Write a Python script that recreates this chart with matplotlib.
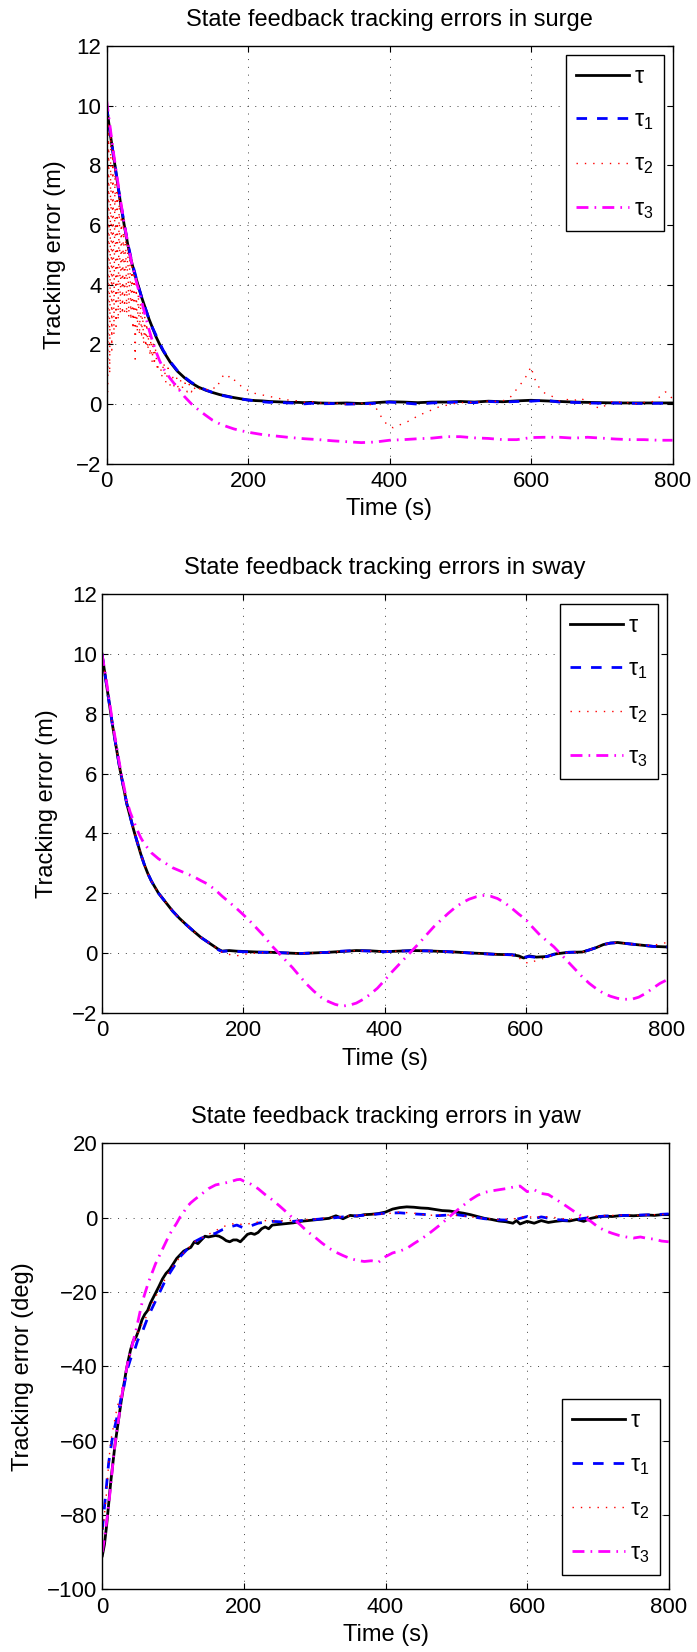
import numpy as np
import matplotlib
matplotlib.use("Agg")
import matplotlib.pyplot as plt

plt.rcParams['font.family'] = ['Liberation Sans', 'DejaVu Sans']
plt.rcParams['mathtext.fontset'] = 'custom'
plt.rcParams['mathtext.rm'] = 'Liberation Sans'
plt.rcParams['mathtext.it'] = 'Liberation Sans:italic'
plt.rcParams['axes.unicode_minus'] = True

# ---------------- data ----------------
series_labels = [r'$\mathrm{\tau}$', r'$\mathrm{\tau}_1$', r'$\mathrm{\tau}_2$', r'$\mathrm{\tau}_3$']
titles = ["State feedback tracking errors in surge",
          "State feedback tracking errors in sway",
          "State feedback tracking errors in yaw"]
ylabels = ["Tracking error (m)", "Tracking error (m)", "Tracking error (deg)"]
xlabel = "Time (s)"
xticks = [0, 200, 400, 600, 800]

# surge
surge_t = [0, 5, 10, 15, 20, 25, 30, 35, 40, 45, 50, 55, 60, 65, 70, 75, 80,
           90, 100, 110, 120, 130, 140, 150, 160, 170, 180, 190, 200, 210, 220, 230, 240, 250, 260, 270, 280, 290, 300,
           320, 340, 360, 380, 400, 420, 440, 460, 480, 500, 520, 540, 560, 580, 600, 620, 640, 660, 680, 700, 720,
           740, 760, 780, 800]
surge_tau = [10.0, 9.1, 8.3, 7.5, 6.7, 6.0, 5.35, 4.8, 4.35, 3.95, 3.55, 3.2, 2.85, 2.55, 2.25, 2.0, 1.78,
             1.4, 1.1, 0.88, 0.7, 0.56, 0.46, 0.38, 0.31, 0.26, 0.21, 0.17, 0.13, 0.11, 0.1, 0.08, 0.07, 0.06, 0.05,
             0.05, 0.04, 0.05, 0.03,
             0.02, 0.03, 0.01, 0.04, 0.07, 0.06, 0.04, 0.06, 0.06, 0.08, 0.06, 0.09, 0.07, 0.1, 0.12, 0.1, 0.08,
             0.06, 0.05, 0.04, 0.03, 0.03, 0.03, 0.03, 0.03]
surge_tau1 = [10.0, 9.15, 8.3, 7.5, 6.75, 6.05, 5.4, 4.85, 4.4, 3.95, 3.55, 3.2, 2.85, 2.55, 2.3, 2.05, 1.8,
              1.42, 1.12, 0.9, 0.72, 0.58, 0.47, 0.38, 0.3, 0.25, 0.2, 0.16, 0.13, 0.1, 0.07, 0.05, 0.06, 0.04,
              0.03, 0.02, 0.0, 0.02, 0.0,
              0.01, -0.01, 0.0, 0.02, 0.06, 0.03, -0.01, 0.03, 0.05, 0.06, 0.04, 0.08, 0.06, 0.08, 0.09, 0.12,
              0.06, 0.05, 0.03, 0.02, 0.03, 0.02, 0.01, 0.02, 0.02]
surge_t2 = list(np.arange(0, 69.1, 1.5)) + list(np.arange(72, 129.1, 3)) + [
    135, 140, 145, 150, 155, 160, 165, 170, 175, 180, 185, 190, 195, 200, 210, 220, 230, 240, 250, 260,
    270, 280, 290, 300, 310, 320, 330, 340, 350, 360, 370, 380, 385, 390, 395, 400, 405, 410, 415, 420,
    430, 440, 450, 460, 470, 480, 490, 500, 510, 520, 530, 540, 550, 560, 570, 575, 580, 585, 590, 595,
    600, 603, 606, 610, 615, 620, 630, 640, 650, 660, 670, 680, 690, 700, 710, 720, 730, 740, 750, 760,
    770, 780, 790, 795, 800]
surge_tau2 = [10.2, 0.4, 9.6, 1.0, 9.0, 1.8, 8.5, 2.3, 8.0, 2.6, 7.5, 2.8, 7.0, 3.0, 6.6, 3.0, 6.2, 3.1, 5.8, 3.0,
              5.4, 2.9, 5.0, 2.8, 4.6, 2.5, 4.3, 1.5, 4.0, 2.4, 3.7, 2.3, 3.4, 2.2, 3.1, 2.0, 2.9, 1.9, 2.7, 1.8,
              2.5, 1.6, 2.3, 1.4, 2.1, 1.3, 1.9,
              1.1, 1.6, 0.9, 1.4, 0.7, 1.2, 0.6, 1.0, 0.5, 0.9, 0.4, 0.8, 0.5, 0.7, 0.4, 0.65, 0.4, 0.6, 0.45, 0.55,
              0.45, 0.5, 0.45, 0.55, 0.5, 0.75, 0.95, 0.85, 0.95, 0.8, 0.75, 0.6, 0.55, 0.45, 0.35, 0.3, 0.25, 0.2,
              0.15, 0.12, 0.1, 0.05, 0.08, 0.02, 0.05, 0.0, 0.03, -0.02, 0.0, 0.02, 0.0, -0.1, -0.3, -0.5, -0.65,
              -0.75, -0.8, -0.75, -0.7, -0.65, -0.55, -0.4, -0.3, -0.2, -0.1, -0.05, 0.0, 0.05, 0.02, 0.08, 0.05,
              0.1, 0.08, 0.1, 0.2, 0.35, 0.5, 0.65, 0.8, 1.0, 1.25, 1.0, 0.8, 0.6, 0.45, 0.35, 0.25, 0.1, 0.15,
              0.1, 0.2, 0.05, -0.1, -0.15, 0.05, 0.1, 0.02, 0.05, 0.0, 0.05, 0.05, 0.2, 0.4, 0.35, 0.15]
surge_t3 = [0, 5, 10, 15, 20, 25, 30, 35, 40, 45, 50, 55, 60, 65, 70, 75, 80,
            90, 100, 110, 120, 130, 140, 150, 160, 170, 180, 190, 200,
            220, 240, 260, 280, 300, 320, 340, 360, 380, 400, 420, 440, 460, 480, 500, 520, 540, 560, 580, 600,
            620, 640, 660, 680, 700, 720, 740, 760, 780, 800]
surge_tau3 = [10.2, 9.3, 8.4, 7.6, 6.8, 6.05, 5.4, 4.8, 4.3, 3.85, 3.4, 2.95, 2.5, 2.1, 1.75, 1.45, 1.2,
              0.85, 0.55, 0.25, 0.0, -0.2, -0.38, -0.55, -0.67, -0.76, -0.84, -0.9, -0.95,
              -1.03, -1.08, -1.13, -1.17, -1.2, -1.24, -1.27, -1.3, -1.28, -1.22, -1.2, -1.17, -1.15, -1.1, -1.1,
              -1.14, -1.16, -1.2, -1.2, -1.13, -1.12, -1.12, -1.15, -1.12, -1.15, -1.18, -1.2, -1.2, -1.22, -1.22]

# sway
sway_t = [0, 5, 10, 15, 20, 25, 30, 35, 40, 45, 50, 55, 60, 65, 70, 75, 80, 90, 100, 110,
          120, 130, 140, 150, 160, 165, 170, 180, 190, 200, 220, 240, 260, 280, 300, 320, 340, 360, 380, 400,
          420, 440, 460, 480, 500, 520, 540, 560, 580, 590, 597, 605, 615, 630, 640, 660, 680, 690, 700, 710,
          720, 730, 740, 760, 780, 800]
sway_tau = [10, 9.2, 8.4, 7.6, 6.9, 6.2, 5.6, 5.0, 4.55, 4.1, 3.7, 3.3, 2.95, 2.65, 2.4, 2.2, 2.0, 1.7, 1.4, 1.15,
            0.93, 0.72, 0.52, 0.36, 0.2, 0.12, 0.06, 0.08, 0.06, 0.05, 0.03, 0.02, 0.0, -0.02, 0.0, 0.02, 0.05,
            0.08, 0.07, 0.04, 0.06, 0.08, 0.07, 0.05, 0.03, 0.0, -0.02, -0.05, -0.06, -0.1, -0.17, -0.1, -0.14,
            -0.12, -0.04, 0.02, 0.03, 0.1, 0.18, 0.28, 0.33, 0.35, 0.32, 0.27, 0.22, 0.2]
sway_tau1 = [10, 9.2, 8.4, 7.6, 6.9, 6.2, 5.6, 5.0, 4.55, 4.1, 3.7, 3.3, 2.95, 2.65, 2.4, 2.2, 2.0, 1.7, 1.4, 1.15,
             0.93, 0.72, 0.52, 0.36, 0.2, 0.1, 0.05, 0.07, 0.05, 0.04, 0.02, 0.02, 0.0, -0.02, 0.0, 0.02, 0.06,
             0.08, 0.06, 0.04, 0.06, 0.07, 0.07, 0.05, 0.03, 0.0, -0.03, -0.05, -0.06, -0.1, -0.15, -0.12, -0.15,
             -0.12, -0.05, 0.02, 0.03, 0.1, 0.18, 0.28, 0.33, 0.34, 0.32, 0.27, 0.22, 0.2]
sway_tau2 = [10, 9.2, 8.4, 7.6, 6.9, 6.2, 5.6, 5.0, 4.55, 4.1, 3.7, 3.3, 2.95, 2.65, 2.4, 2.2, 2.0, 1.7, 1.4, 1.15,
             0.93, 0.72, 0.52, 0.36, 0.2, 0.1, 0.02, -0.05, -0.1, -0.05, 0.0, 0.02, 0.0, -0.02, 0.0, 0.02, 0.05,
             0.08, 0.06, 0.04, 0.06, 0.08, 0.06, 0.05, 0.03, 0.0, -0.03, -0.05, -0.08, -0.15, -0.3, -0.35, -0.25,
             -0.15, -0.05, 0.02, 0.03, 0.1, 0.18, 0.28, 0.33, 0.35, 0.32, 0.27, 0.25, 0.35]
sway_t3 = [0, 5, 10, 15, 20, 25, 30, 35, 40, 45, 50, 55, 60, 65, 70] + list(range(80, 801, 10))
sway_tau3 = [10, 9.3, 8.5, 7.7, 7.0, 6.3, 5.7, 5.1, 4.7, 4.4, 4.1, 3.85, 3.65, 3.5, 3.35,
             3.15, 3.0, 2.85, 2.75, 2.65, 2.55, 2.42, 2.3, 2.12, 1.9, 1.7, 1.5, 1.28, 1.05, 0.8, 0.55, 0.25,
             0.0, -0.25, -0.5, -0.78, -1.05, -1.28, -1.48, -1.62, -1.72, -1.78, -1.75, -1.68, -1.55, -1.38, -1.18,
             -0.92, -0.65, -0.4, -0.15, 0.1, 0.35, 0.62, 0.88, 1.1, 1.32, 1.52, 1.68, 1.8, 1.88, 1.92, 1.9, 1.82,
             1.68, 1.5, 1.3, 1.12, 0.85, 0.6, 0.4, 0.2, -0.05, -0.3, -0.55, -0.8, -1.02, -1.2, -1.35, -1.45,
             -1.52, -1.55, -1.55, -1.48, -1.35, -1.18, -1.02, -0.9]

# yaw
yaw_t = [0, 3, 6, 9, 12, 15, 18, 21, 24, 27, 30, 33, 36, 40, 44, 48, 52, 56, 60, 64, 68, 72, 76, 80, 85, 90, 95,
         100, 105, 110, 115, 120, 125, 130, 135, 140, 145, 150, 155, 160, 165, 170, 175, 180, 185, 190, 195, 200,
         205, 210, 215, 220, 225, 230, 235, 240, 250, 260, 270, 280, 290, 300, 310, 320, 330, 340, 350, 360, 370,
         380, 390, 400, 410, 420, 430, 440, 450, 460, 470, 480, 490, 500, 510, 520, 530, 540, 550, 560, 570, 580,
         585, 590, 600, 610, 620, 630, 640, 650, 660, 670, 680, 690, 700, 710, 720, 730, 740, 750, 760, 770, 780,
         790, 800]
yaw_tau = [-91, -88, -83, -77, -71, -66, -61, -57, -53, -49, -45.5, -42, -39, -35.5, -33, -32, -30, -27.5, -26,
           -25, -23, -21.5, -20, -18.5, -16.5, -15, -14, -12.5, -11, -10, -9, -8.5, -8, -6.5, -7, -6, -5, -5.2,
           -5, -4.8, -5, -5.5, -6.2, -6.5, -6, -6, -6.5, -5.5, -4.5, -4.2, -4.5, -4, -3, -2.5, -3, -2, -1.8, -1.6,
           -1.4, -1, -0.8, -0.6, -0.4, -0.2, 0.5, -0.3, 0.6, 0.4, 0.8, 0.9, 1.1, 1.5, 2.3, 2.7, 2.9, 2.8, 2.6, 2.5,
           2.2, 1.9, 1.8, 1.5, 1.2, 0.8, 0.3, -0.2, -0.5, -0.9, -1.1, -1.5, -0.8, -1.7, -1.0, -1.5, -0.8, -1.3,
           -1.0, -0.8, -0.9, -0.5, -1.0, -0.2, 0.2, 0.4, 0.3, 0.5, 0.6, 0.5, 0.6, 0.7, 0.6, 0.8, 0.8]
yaw_t12 = [0, 3, 6, 9, 12, 15, 18, 21, 24, 27, 30, 35, 40, 45, 50, 55, 60, 65, 70, 75, 80, 85, 90, 95, 100, 105,
           110, 115, 120, 125, 130, 140, 150, 160, 170, 180, 190, 200, 210, 220, 230, 240, 260, 280, 300, 320,
           340, 360, 380, 400, 420, 440, 460, 470, 480, 500, 520, 540, 560, 580, 600, 610, 620, 640, 660, 680,
           700, 720, 740, 760, 780, 800]
yaw_tau1 = [-84, -78, -72, -66, -62, -58.5, -56, -53.5, -51, -48, -46, -41, -38, -36, -33, -31.5, -29, -26.5,
            -24.5, -22.5, -20.5, -18.5, -16.5, -15, -13.5, -12, -10.5, -9.5, -8.5, -7.5, -6.5, -5.5, -4.8, -4.2,
            -3.2, -2.5, -2.0, -2.8, -2.2, -1.5, -1.2, -1.0, -1.2, -0.8, -0.5, -0.2, 0.2, 0.5, 0.8, 1.2, 1.3, 1.0,
            0.8, 0.5, 0.6, 0.8, 0.3, -0.3, -0.6, -0.7, 0.3, -0.3, 0.2, -0.5, -0.8, -0.2, 0.3, 0.5, 0.6, 0.7, 0.8,
            1.0]
yaw_tau2 = [-86, -80, -74, -66, -60, -57, -54, -51, -49, -46.5, -44, -40, -36, -34, -31, -29, -27.5, -25.5,
            -23.5, -21.5, -19.5, -18, -16, -14.5, -13, -11.8, -10.5, -9.5, -8.5, -7.5, -6.5, -5.5, -4.5, -3.5,
            -2.5, -1.8, -1.5, -2.0, -1.5, -1.2, -0.8, -0.9, -0.8, -0.6, -0.4, 0.0, 0.3, 0.6, 0.9, 1.0, 1.5, 1.2,
            0.6, 0.7, 0.8, 0.6, 0.2, -0.2, -0.5, -0.4, 0.5, -0.2, 0.4, 0.0, -0.5, 0.2, 0.5, 0.6, 0.7, 0.6, 0.8,
            0.9]
yaw_t3 = [0, 4, 8, 12, 16, 20, 24, 28, 32, 36, 40, 44, 48, 52, 56, 60, 65, 70, 75, 80, 85, 90, 95, 100, 105,
          110, 115, 120, 125, 130, 140, 150, 160, 170, 180, 190, 195, 200, 210, 220] + list(range(230, 801, 10))
yaw_tau3 = [-90, -85, -79, -72, -64, -58, -53, -47.5, -43, -39, -36, -33, -30, -26.5, -23, -20.5, -17.5, -15,
            -12.5, -10.5, -8.5, -6.5, -4.5, -3, -1.5, 0.2, 1.5, 3, 4, 4.8, 6.3, 7.8, 8.8, 9.2, 9.6, 10.2, 10.3,
            9.8, 9.0, 7.8, 6.2, 4.8, 3.2, 1.5, -0.3, -2, -3.8, -5.2, -6.8, -8.2, -9.3, -10.2, -11, -11.5, -11.8,
            -11.6, -12, -10.5, -9.5, -9.0, -8.3, -7, -5.8, -4.5, -3, -1.5, 0.2, 1.8, 3.3, 4.8, 6, 6.8, 7.2, 7.5,
            7.8, 8.2, 8.5, 7.0, 7.5, 6.5, 6.2, 5.0, 3.8, 2.5, 1.2, 0.0, -1.0, -2.5, -3.5, -4.2, -4.8, -5.2, -5.5,
            -5.2, -5.6, -5.8, -6.3, -6.5]

# ---------------- styling ----------------
line_styles = [
    dict(color='black', lw=2.0, ls='-'),
    dict(color='blue', lw=2.0, ls=(0, (3.8, 3.6))),
    dict(color='red', lw=1.0, ls=(0, (1.0, 5.0))),
    dict(color='magenta', lw=2.0, ls=(0, (4.3, 2.2, 0.6, 2.2))),
]

W, H = 697, 1652
fig = plt.figure(figsize=(W / 100, H / 100), dpi=100)

# axes boxes in pixels: left, top, right, bottom
boxes = [(106.5, 46, 672.5, 463.5), (102, 594.3, 667, 1012.7), (102.3, 1143.3, 668.7, 1589.3)]
ylims = [(-2, 12), (-2, 12), (-100, 20)]
yticks = [np.arange(-2, 13, 2), np.arange(-2, 13, 2), np.arange(-100, 21, 20)]
ylabel_off = [52, 55, 79]
legend_anchor = [((664, 55), 'upper right'), ((658, 603.6), 'upper right'), ((660, 1575), 'lower right')]

data = [
    [(surge_t, surge_tau), (surge_t, surge_tau1), (surge_t2, surge_tau2), (surge_t3, surge_tau3)],
    [(sway_t, sway_tau), (sway_t, sway_tau1), (sway_t, sway_tau2), (sway_t3, sway_tau3)],
    [(yaw_t, yaw_tau), (yaw_t12, yaw_tau1), (yaw_t12, yaw_tau2), (yaw_t3, yaw_tau3)],
]

FS_TICK = 16
FS_LABEL = 17
FS_TITLE = 17
FS_LEG = 16.5

for i in range(3):
    l, t, r, b = boxes[i]
    wpx, hpx = r - l, b - t
    ax = fig.add_axes([l / W, 1 - b / H, wpx / W, hpx / H])
    lines = []
    for (tx, ty), st in zip(data[i], line_styles):
        ln, = ax.plot(tx, ty, color=st['color'], lw=st['lw'], linestyle=st['ls'])
        lines.append(ln)
    ax.set_xlim(0, 800)
    ax.set_ylim(*ylims[i])
    ax.set_xticks(xticks)
    ax.set_yticks(yticks[i])
    ax.tick_params(direction='in', length=4.3, width=0.8, top=True, right=True,
                   labelsize=FS_TICK, color='black')
    ax.tick_params(axis='x', pad=5.2)
    ax.tick_params(axis='y', pad=3.6)
    ax.grid(True, color='#404040', lw=0.7, linestyle=(0, (1, 7)))
    for sp in ax.spines.values():
        sp.set_linewidth(1.0)

    ax.set_xlabel(xlabel, fontsize=FS_LABEL)
    ax.xaxis.label.set_va('center')
    ax.xaxis.set_label_coords(0.5, -46 / hpx)
    ax.set_ylabel(ylabels[i], fontsize=FS_LABEL)
    ax.yaxis.label.set_va('center')
    ax.yaxis.set_label_coords(-ylabel_off[i] / wpx, 0.5)

    ax.text(0.5, 1 + 26 / hpx, titles[i], transform=ax.transAxes, ha='center', va='center',
            fontsize=FS_TITLE)

    (ax_px, ay_px), loc = legend_anchor[i]
    anchor = ((ax_px - l) / wpx, (b - ay_px) / hpx)
    leg = ax.legend(lines, series_labels, loc=loc, bbox_to_anchor=anchor, borderaxespad=0,
                    fontsize=FS_LEG, handlelength=2.3, handletextpad=0.25, labelspacing=0.88,
                    borderpad=0.45, fancybox=False, framealpha=1, edgecolor='black')
    leg.get_frame().set_linewidth(1.0)

fig.savefig("out.png", dpi=100)
